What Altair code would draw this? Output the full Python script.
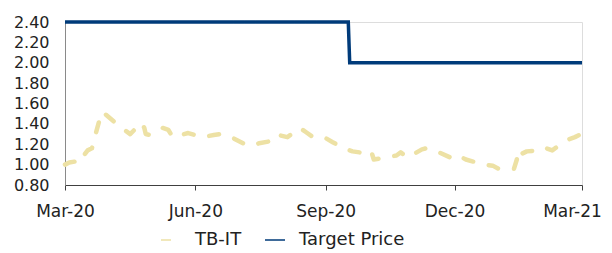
import altair as alt
import pandas as pd

# TB-IT share price
tb_dates = [
    "2020-03-01", "2020-03-04", "2020-03-08", "2020-03-10", "2020-03-17", "2020-03-20",
    "2020-03-22", "2020-03-25", "2020-03-28", "2020-03-29", "2020-04-09", "2020-04-12",
    "2020-04-16", "2020-04-24", "2020-04-26", "2020-04-27", "2020-04-30", "2020-05-09",
    "2020-05-13", "2020-05-16", "2020-05-27", "2020-06-01", "2020-06-06", "2020-06-14",
    "2020-06-19", "2020-06-25", "2020-07-06", "2020-07-13", "2020-07-16", "2020-07-28",
    "2020-07-30", "2020-08-05", "2020-08-14", "2020-08-18", "2020-08-22", "2020-08-29",
    "2020-09-01", "2020-09-06", "2020-09-14", "2020-09-20", "2020-09-25", "2020-10-03",
    "2020-10-05", "2020-10-09", "2020-10-21", "2020-10-24", "2020-10-29", "2020-11-08",
    "2020-11-11", "2020-11-17", "2020-11-28", "2020-12-02", "2020-12-05", "2020-12-09",
    "2020-12-22", "2020-12-28", "2021-01-01", "2021-01-12", "2021-01-14", "2021-01-15",
    "2021-01-18", "2021-01-21", "2021-01-29", "2021-02-02", "2021-02-08", "2021-02-15",
    "2021-02-20", "2021-02-24", "2021-02-27",
]
tb_values = [
    1.00, 1.02, 1.03, 1.01, 1.14, 1.16,
    1.27, 1.42, 1.41, 1.50, 1.37, 1.34,
    1.30, 1.41, 1.36, 1.30, 1.29, 1.36,
    1.34, 1.27, 1.31, 1.29, 1.27, 1.29,
    1.30, 1.28, 1.20, 1.19, 1.21, 1.24,
    1.29, 1.27, 1.36, 1.32, 1.28, 1.28,
    1.26, 1.22, 1.16, 1.13, 1.12, 1.14,
    1.05, 1.06, 1.09, 1.12, 1.07, 1.15,
    1.16, 1.14, 1.07, 1.10, 1.08, 1.05,
    1.00, 0.99, 0.96, 0.96, 1.05, 1.15,
    1.11, 1.13, 1.14, 1.17, 1.14, 1.21,
    1.25, 1.27, 1.29,
]

# Target price
tp_dates = ["2020-03-01", "2020-09-17", "2020-09-18", "2021-03-01"]
tp_values = [2.40, 2.40, 2.00, 2.00]

series_names = ["TB-IT", "Target Price"]
series_colors = ["#EDE1A4", "#003B7A"]
x_ticks = ["2020-03-01", "2020-06-01", "2020-09-01", "2020-12-01", "2021-03-01"]
y_ticks = [0.8, 1.0, 1.2, 1.4, 1.6, 1.8, 2.0, 2.2, 2.4]

tb = pd.DataFrame({"date": pd.to_datetime(tb_dates), "value": tb_values, "series": "TB-IT"})
tp = pd.DataFrame({"date": pd.to_datetime(tp_dates), "value": tp_values, "series": "Target Price"})

FONT = "DejaVu Sans"

x_enc = alt.X(
    "date:T",
    scale=alt.Scale(domain=[x_ticks[0], x_ticks[-1]]),
    axis=alt.Axis(
        values=[pd.Timestamp(d).isoformat() for d in x_ticks],
        format="%b-%y",
        title=None,
        grid=False,
        tickSize=5,
        tickColor="#404040",
        domainColor="#404040",
        labelPadding=13,
        labelFlush=False,
        labelOverlap=False,
        labelOffset={"condition": {"test": "datum.index === 1", "value": -10}, "value": 0},
        labelFontSize=17,
        labelColor="#222222",
        labelFont=FONT,
    ),
)
y_enc = alt.Y(
    "value:Q",
    scale=alt.Scale(domain=[0.8, 2.4], nice=False, zero=False),
    axis=alt.Axis(
        values=y_ticks,
        format=".2f",
        title=None,
        grid=False,
        ticks=False,
        domainColor="#8a8a8a",
        labelPadding=16,
        labelFontSize=16,
        labelColor="#222222",
        labelFont=FONT,
    ),
)
legend = alt.Legend(
    title=None,
    orient="none",
    legendX=95,
    legendY=207,
    direction="horizontal",
    symbolType="stroke",
    symbolSize=400,
    symbolStrokeWidth=1.5,
    labelFontSize=18,
    labelFont=FONT,
    labelColor="#222222",
    columnPadding=20,
    labelOffset=13,
)
color_enc = alt.Color(
    "series:N",
    scale=alt.Scale(domain=series_names, range=series_colors),
    legend=legend,
)
dash_enc = alt.StrokeDash(
    "series:N",
    scale=alt.Scale(domain=series_names, range=[[10, 16], [1, 0]]),
    legend=legend,
)

tb_line = alt.Chart(tb).mark_line(strokeWidth=4.5, strokeCap="round", strokeJoin="round").encode(
    x=x_enc, y=y_enc, color=color_enc, strokeDash=dash_enc
)
tp_line = alt.Chart(tp).mark_line(strokeWidth=3.5, strokeJoin="miter").encode(
    x=x_enc, y=y_enc, color=color_enc, strokeDash=dash_enc
)

chart = (
    alt.layer(tb_line, tp_line)
    .properties(
        width=517,
        height=163,
        autosize=alt.AutoSizeParams(type="none"),
        padding={"left": 57, "top": 14, "right": 22, "bottom": 68},
    )
    .configure_view(stroke=None)
    .configure(background="white")
)

chart.save("out.html", embed_options={"renderer": "svg", "actions": False})
